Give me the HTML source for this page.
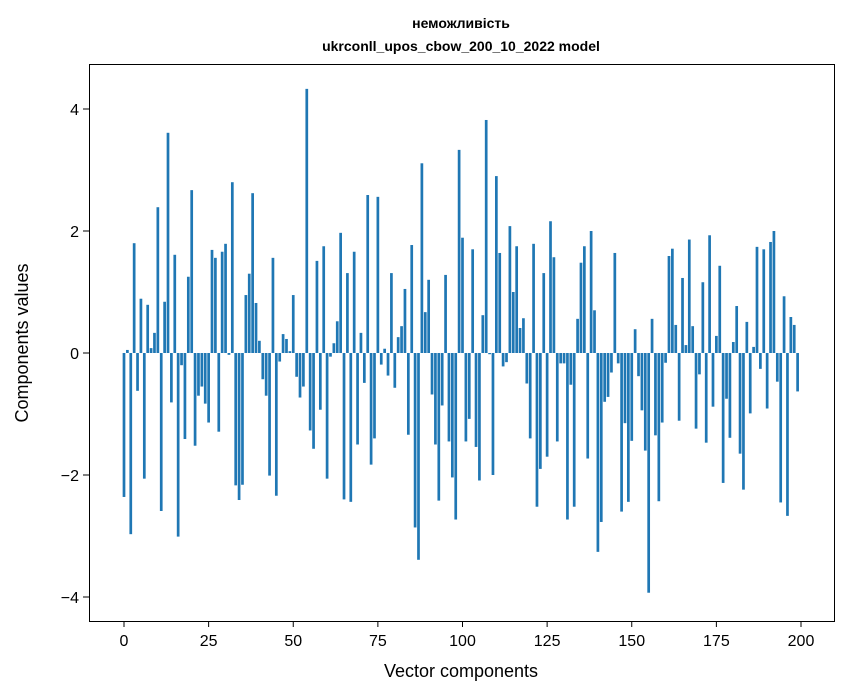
<!DOCTYPE html>
<html><head><meta charset="utf-8"><style>
body{margin:0;background:#fff;}
svg{display:block;font-family:"Liberation Sans",sans-serif;}
</style></head><body>
<svg id="chart" width="847" height="696" viewBox="0 0 847 696">
<rect width="847" height="696" fill="#fff"/>
<text x="461" y="28" text-anchor="middle" font-size="14" font-weight="bold">неможливість</text>
<text x="461" y="51" text-anchor="middle" font-size="14" font-weight="bold">ukrconll_upos_cbow_200_10_2022 model</text>
<g id="bars"></g>
<g id="xticks"></g>
<g id="yticks"></g>
<rect x="89.5" y="64.5" width="745" height="557" fill="none" stroke="#000" stroke-width="1"/>
<text x="461" y="677" text-anchor="middle" font-size="18">Vector components</text>
<text transform="translate(28,343) rotate(-90)" text-anchor="middle" font-size="18">Components values</text>
</svg>
<script>
const values = [
-2.36,0.05,-2.97,1.80,-0.62,0.89,-2.06,0.79,0.08,0.33,
2.39,-2.59,0.84,3.61,-0.81,1.61,-3.01,-0.20,-1.41,1.25,
2.67,-1.52,-0.70,-0.55,-0.83,-1.14,1.69,1.56,-1.29,1.66,
1.79,-0.03,2.80,-2.17,-2.41,-2.16,0.95,1.30,2.62,0.82,
0.20,-0.43,-0.70,-2.01,1.56,-2.34,-0.14,0.31,0.23,0.03,
0.95,-0.39,-0.73,-0.55,4.33,-1.27,-1.57,1.51,-0.93,1.75,
-2.06,-0.06,0.16,0.52,1.97,-2.40,1.31,-2.44,1.66,-1.50,
0.33,-0.49,2.59,-1.83,-1.40,2.56,-0.19,0.07,-0.37,1.31,
-0.57,0.26,0.44,1.05,-1.34,1.77,-2.86,-3.39,3.11,0.67,
1.20,-0.68,-1.50,-2.42,-0.86,1.28,-1.45,-2.04,-2.73,3.33,
1.89,-1.45,-1.08,1.70,-1.54,-2.09,0.62,3.82,-0.02,-2.00,
2.90,1.64,-0.22,-0.15,2.08,1.00,1.75,0.41,0.57,-0.50,
-1.40,1.79,-2.52,-1.90,1.31,-1.70,2.16,1.57,-1.45,-0.17,
-0.17,-2.73,-0.52,-2.52,0.56,1.48,1.75,-1.73,2.00,0.70,
-3.26,-2.77,-0.80,-0.72,-0.32,1.64,-0.17,-2.60,-1.15,-2.44,
-1.44,0.39,-0.38,-0.94,-1.60,-3.93,0.56,-1.35,-2.43,-1.14,
-0.16,1.59,1.71,0.46,-1.11,1.23,0.13,1.86,0.44,-1.24,
-0.35,1.16,-1.47,1.93,-0.88,0.28,1.43,-2.13,-0.75,-1.39,
0.18,0.77,-1.65,-2.24,0.51,-0.99,0.10,1.74,-0.26,1.70,
-0.91,1.82,2.00,-0.47,-2.45,0.93,-2.67,0.59,0.46,-0.63
];
const xTickValues = [0,25,50,75,100,125,150,175,200];
const yTickValues = [-4,-2,0,2,4];
const yTickLabels = ["\u22124","\u22122","0","2","4"];

const NS = "http://www.w3.org/2000/svg";
function xs(v){ return 124 + (801-124)/200 * v; }
function ys(v){ return 353 - 61 * v; }
const barsG = document.getElementById('bars');
values.forEach((v,i)=>{
  const r = document.createElementNS(NS,'rect');
  const w = 0.8 * (801-124)/200;
  r.setAttribute('x', xs(i) - w/2);
  r.setAttribute('width', w);
  r.setAttribute('y', Math.min(ys(v), ys(0)));
  r.setAttribute('height', Math.abs(ys(v) - ys(0)));
  r.setAttribute('fill', '#1f77b4');
  
  
  barsG.appendChild(r);
});
const xg = document.getElementById('xticks');
xTickValues.forEach(t=>{
  const l = document.createElementNS(NS,'line');
  l.setAttribute('x1', xs(t)); l.setAttribute('x2', xs(t));
  l.setAttribute('y1', 621); l.setAttribute('y2', 627);
  l.setAttribute('stroke', '#000');
  
  
  xg.appendChild(l);
  const tx = document.createElementNS(NS,'text');
  tx.setAttribute('x', xs(t)); tx.setAttribute('y', 646);
  tx.setAttribute('text-anchor', 'middle'); tx.setAttribute('font-size', '16');
  tx.textContent = t;
  
  
  xg.appendChild(tx);
});
const yg = document.getElementById('yticks');
yTickValues.forEach((t,k)=>{
  const l = document.createElementNS(NS,'line');
  l.setAttribute('x1', 83); l.setAttribute('x2', 89);
  l.setAttribute('y1', ys(t)); l.setAttribute('y2', ys(t));
  l.setAttribute('stroke', '#000');
  
  
  yg.appendChild(l);
  const tx = document.createElementNS(NS,'text');
  tx.setAttribute('x', 79); tx.setAttribute('y', ys(t) + 6);
  tx.setAttribute('text-anchor', 'end'); tx.setAttribute('font-size', '16');
  tx.textContent = yTickLabels[k];
  
  
  yg.appendChild(tx);
});
</script>
</body></html>
